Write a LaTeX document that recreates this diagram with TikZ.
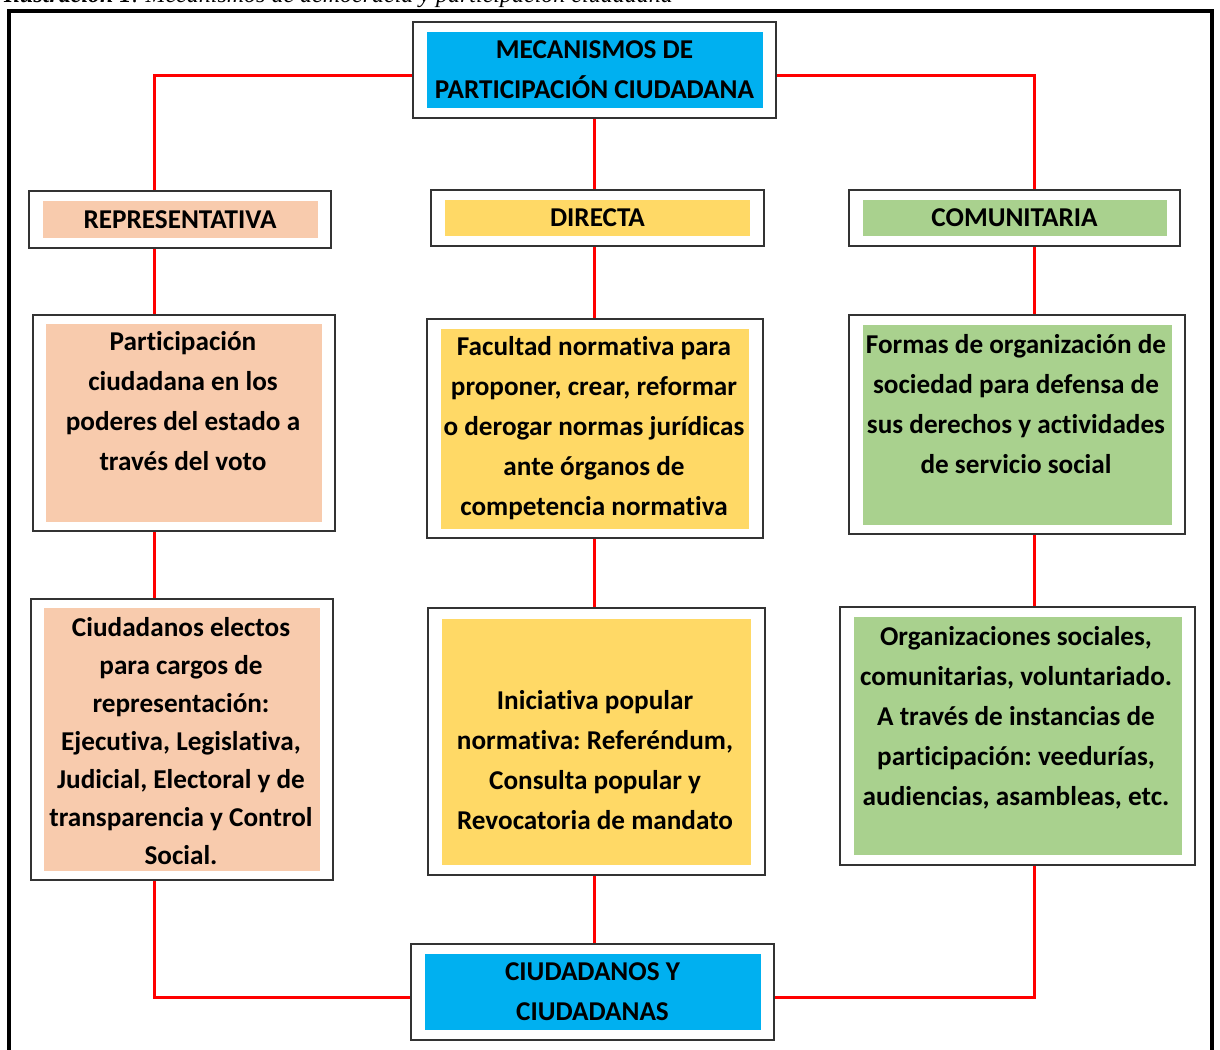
\documentclass[tikz,border=0pt]{standalone}
\usepackage{fontspec}
\setmainfont{Carlito}[Ligatures={NoCommon}]
\newfontfamily\capfont{Liberation Serif}
\frenchspacing
\definecolor{cblue}{HTML}{00B0F0}
\definecolor{cpeach}{HTML}{F8CBAD}
\definecolor{cyellow}{HTML}{FFD966}
\definecolor{cgreen}{HTML}{A9D18E}
\definecolor{cred}{HTML}{FF0000}
\definecolor{cborder}{HTML}{333333}
\tikzset{
  outerbox/.style={draw=cborder, line width=2pt, fill=white, inner sep=0pt},
  innerbox/.style={fill=#1, draw=none, inner sep=0pt},
  txt/.style={align=center, inner sep=0pt, font=\fontsize{27.2}{40}\selectfont\bfseries},
  conn/.style={draw=cred, line width=3pt},
}
\begin{document}
\begin{tikzpicture}[x=1pt,y=-1pt]
\useasboundingbox (0,0) rectangle (1220,1049);
% caption (cut off at the top, as in the reference)
\node[anchor=base west, inner sep=0pt, font=\capfont\fontsize{24}{26}\selectfont] (cap) at (4,3) {\textbf{\textit{Ilustración 1}}\textit{: Mecanismos de democracia y participación ciudadana}};
% outer frame
\draw[line width=3.5pt] (9,11) rectangle (1212,1070);

% top
\node[outerbox, minimum width=363pt, minimum height=96pt] (top) at (594.5,70) {};
\node[innerbox=cblue, minimum width=336pt, minimum height=76pt] (topin) at (top) {};
\node[txt] (toptxt) at (594.5,70) {MECANISMOS DE\\PARTICIPACIÓN CIUDADANA};

% second row
\node[outerbox, minimum width=302pt, minimum height=57pt] (rep) at (180,219.5) {};
\node[innerbox=cpeach, minimum width=275pt, minimum height=37pt] (repin) at (rep) {};
\node[txt] (reptxt) at (180,219.5) {REPRESENTATIVA};

\node[outerbox, minimum width=333pt, minimum height=56pt] (dir) at (597.5,218) {};
\node[innerbox=cyellow, minimum width=305pt, minimum height=36pt] (dirin) at (dir) {};
\node[txt] (dirtxt) at (597.5,218) {DIRECTA};

\node[outerbox, minimum width=331pt, minimum height=56pt] (com) at (1014.5,218) {};
\node[innerbox=cgreen, minimum width=304pt, minimum height=36pt] (comin) at (com) {};
\node[txt] (comtxt) at (1014.5,218) {COMUNITARIA};

% third row
\node[outerbox, minimum width=302pt, minimum height=216pt] (L2) at (184,423) {};
\node[innerbox=cpeach, minimum width=276pt, minimum height=198pt] (L2in) at (L2) {};
\node[txt] (L2txt) at (183,401) {Participación\\ciudadana en los\\poderes del estado a\\través del voto};

\node[outerbox, minimum width=336pt, minimum height=219pt] (M2) at (595,428.5) {};
\node[innerbox=cyellow, minimum width=308pt, minimum height=200pt] (M2in) at (M2) {};
\node[txt] (M2txt) at (594,428) {Facultad normativa para\\proponer, crear, reformar\\o derogar normas jurídicas\\ante órganos de\\competencia normativa};

\node[outerbox, minimum width=336pt, minimum height=219pt] (R2) at (1017,424.5) {};
\node[innerbox=cgreen, minimum width=309pt, minimum height=200pt] (R2in) at (R2) {};
\node[txt] (R2txt) at (1016,404) {Formas de organización de\\sociedad para defensa de\\sus derechos y actividades\\de servicio social};

% fourth row
\node[outerbox, minimum width=302pt, minimum height=281pt] (L3) at (182,739.5) {};
\node[innerbox=cpeach, minimum width=276pt, minimum height=263pt] (L3in) at (L3) {};
\node[txt, font=\fontsize{27.2}{38}\selectfont\bfseries] (L3txt) at (181,741) {Ciudadanos electos\\para cargos de\\representación:\\Ejecutiva, Legislativa,\\Judicial, Electoral y de\\transparencia y Control\\Social.};

\node[outerbox, minimum width=337pt, minimum height=267pt] (M3) at (596.5,741.5) {};
\node[innerbox=cyellow, minimum width=309pt, minimum height=246pt] (M3in) at (M3) {};
\node[txt] (M3txt) at (595,760) {Iniciativa popular\\normativa: Referéndum,\\Consulta popular y\\Revocatoria de mandato};

\node[outerbox, minimum width=355pt, minimum height=258pt] (R3) at (1017.5,736) {};
\node[innerbox=cgreen, minimum width=328pt, minimum height=238pt] (R3in) at (R3) {};
\node[txt] (R3txt) at (1016,718) {Organizaciones sociales,\\comunitarias, voluntariado.\\A través de instancias de\\participación: veedurías,\\audiencias, asambleas, etc.};

% bottom
\node[outerbox, minimum width=363pt, minimum height=96pt] (bot) at (592.5,992) {};
\node[innerbox=cblue, minimum width=336pt, minimum height=76pt] (botin) at (bot) {};
\node[txt] (bottxt) at (592.5,992) {CIUDADANOS Y\\CIUDADANAS};

% connectors
\coordinate (tl) at ([yshift=-5pt]top.west);
\coordinate (tr) at ([yshift=-5pt]top.east);
\coordinate (xl) at (154.5,0);
\coordinate (xm) at (594,0);
\coordinate (xr) at (1034,0);
\draw[conn] (tl) -| (xl |- rep.north);
\draw[conn] (tr) -| (xr |- com.north);
\draw[conn] (xm |- top.south) -- (xm |- dir.north);
\draw[conn] (xl |- rep.south) -- (xl |- L2.north);
\draw[conn] (xm |- dir.south) -- (xm |- M2.north);
\draw[conn] (xr |- com.south) -- (xr |- R2.north);
\draw[conn] (xl |- L2.south) -- (xl |- L3.north);
\draw[conn] (xm |- M2.south) -- (xm |- M3.north);
\draw[conn] (xr |- R2.south) -- (xr |- R3.north);
\coordinate (bl) at ([yshift=-5pt]bot.west);
\coordinate (br) at ([yshift=-5pt]bot.east);
\draw[conn] (xl |- L3.south) |- (bl);
\draw[conn] (xm |- M3.south) -- (xm |- bot.north);
\draw[conn] (xr |- R3.south) |- (br);
\end{tikzpicture}
\end{document}
